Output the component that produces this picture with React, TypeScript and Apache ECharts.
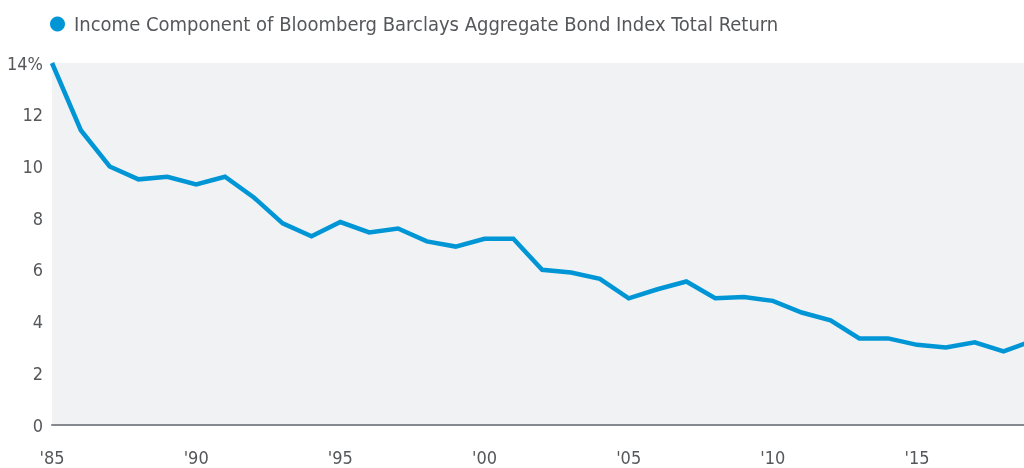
import React, { useEffect, useRef } from "react";
import * as echarts from "echarts";

const seriesName = "Income Component of Bloomberg Barclays Aggregate Bond Index Total Return";
const years = [
  1985, 1986, 1987, 1988, 1989, 1990, 1991, 1992, 1993, 1994,
  1995, 1996, 1997, 1998, 1999, 2000, 2001, 2002, 2003, 2004,
  2005, 2006, 2007, 2008, 2009, 2010, 2011, 2012, 2013, 2014,
  2015, 2016, 2017, 2018, 2019,
];
const incomeReturn = [
  14.0, 11.4, 10.0, 9.5, 9.6, 9.3, 9.6, 8.8, 7.8, 7.3,
  7.85, 7.45, 7.6, 7.1, 6.9, 7.2, 7.2, 6.0, 5.9, 5.65,
  4.9, 5.25, 5.55, 4.9, 4.95, 4.8, 4.35, 4.05, 3.35, 3.35,
  3.1, 3.0, 3.2, 2.85, 3.25,
];

const FONT = "'DejaVu Sans Condensed', 'Liberation Sans Narrow', Roboto, sans-serif";

export default function App() {
  const ref = useRef<HTMLDivElement>(null);
  useEffect(() => {
    if (!ref.current) return;
    const chart = echarts.init(ref.current, undefined, { renderer: "svg" });
    chart.setOption({
      animation: false,
      textStyle: { fontFamily: FONT },
      legend: {
        left: 45,
        top: 9,
        icon: "circle",
        itemWidth: 15,
        itemHeight: 15,
        itemGap: 10,
        textStyle: { fontSize: 20, color: "#55575a", fontFamily: FONT, padding: [0, 0, 0, 4] },
        data: [seriesName],
      },
      grid: {
        left: 52,
        right: 0,
        top: 63,
        bottom: 43,
        show: true,
        backgroundColor: "#f1f2f4",
        borderWidth: 0,
      },
      xAxis: {
        type: "value",
        min: 1985,
        max: 2018.71,
        interval: 5,
        splitLine: { show: false },
        axisTick: { show: false },
        axisLine: { show: true, onZero: false, lineStyle: { color: "#85888c", width: 2 } },
        axisLabel: {
          showMaxLabel: false,
          margin: 23,
          fontSize: 18,
          color: "#55575a",
          fontFamily: FONT,
          formatter: (v: number) => "'" + String(v).slice(2),
        },
      },
      yAxis: {
        type: "value",
        min: 0,
        max: 14,
        interval: 2,
        splitLine: { show: false },
        axisTick: { show: false },
        axisLine: { show: false },
        axisLabel: {
          margin: 9,
          fontSize: 18,
          color: "#55575a",
          fontFamily: FONT,
          formatter: (v: number) => (v === 14 ? "14%" : String(v)),
        },
      },
      series: [
        {
          name: seriesName,
          type: "line",
          data: years.map((y, i) => [y, incomeReturn[i]]),
          showSymbol: false,
          symbol: "circle",
          clip: true,
          color: "#0096d6",
          lineStyle: { color: "#0096d6", width: 4.5, join: "miter" },
        },
      ],
    });
    return () => chart.dispose();
  }, []);
  return (
    <div
      ref={ref}
      style={{ position: "fixed", left: 0, top: 0, width: 1024, height: 468 }}
    />
  );
}
